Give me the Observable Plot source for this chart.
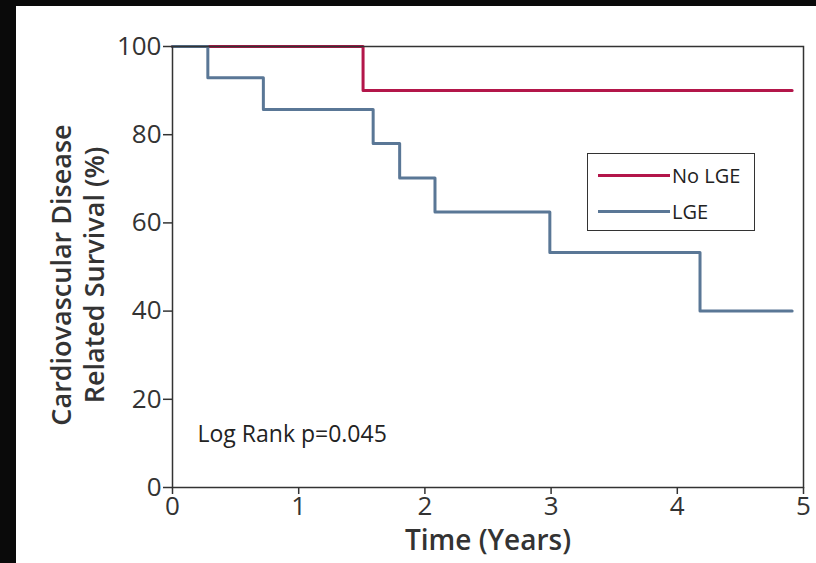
<!DOCTYPE html>
<html>
<head>
<meta charset="utf-8">
<script src="https://cdn.jsdelivr.net/npm/d3@7"></script>
<script src="https://cdn.jsdelivr.net/npm/@observablehq/plot@0.6"></script>
<style>
  html, body { margin: 0; padding: 0; background: #0a0a0a; width: 816px; height: 563px; overflow: hidden; }
  #wrap { position: absolute; left: 16px; top: 6px; width: 800px; height: 557px; background: #fff; }
  #legend { position: absolute; left: 571px; top: 147px; width: 166px; height: 76px; border: 1.5px solid #333; background: #fff; font-family: "Open Sans", sans-serif; font-size: 20px; color: #222; }
  .row { position: absolute; left: 10px; display: flex; align-items: center; }
  .swatch { width: 72px; height: 3px; margin-right: 2px; }
</style>
</head>
<body>
<div id="wrap"></div>
<script>
// Data (Kaplan-Meier steps)
const seriesNames = ["No LGE", "LGE"];
const seriesColors = ["#b3164a", "#5a7796"];
const timesNoLGE = [0, 1.51, 4.91];
const survivalNoLGE = [100, 90, 90];
const timesLGE = [0, 0.28, 0.72, 1.59, 1.80, 2.08, 2.99, 4.18, 4.91];
const survivalLGE = [100, 92.9, 85.7, 78.0, 70.2, 62.5, 53.3, 40, 40];
const xTicks = [0, 1, 2, 3, 4, 5];
const yTicks = [0, 20, 40, 60, 80, 100];
const yLabel = "Cardiovascular Disease\nRelated Survival (%)";
const xLabel = "Time (Years)";
const annotation = "Log Rank p=0.045";

const rows = [
  ...timesNoLGE.map((t, i) => ({group: seriesNames[0], t, s: survivalNoLGE[i]})),
  ...timesLGE.map((t, i) => ({group: seriesNames[1], t, s: survivalLGE[i]}))
];

const chart = Plot.plot({
  width: 800,
  height: 557,
  marginLeft: 156,
  marginTop: 40,
  marginRight: 13,
  marginBottom: 76,
  style: {background: "white", fontFamily: "'Open Sans', sans-serif", color: "#333"},
  x: {domain: [0, 5]},
  y: {domain: [0, 100]},
  color: {domain: seriesNames, range: seriesColors},
  marks: [
    Plot.line(rows, {x: "t", y: "s", z: "group", stroke: "group", strokeWidth: 3, curve: "step-after"}),
    Plot.frame({stroke: "#333", strokeWidth: 1.5}),
    Plot.axisY({ticks: yTicks, tickFormat: "d", tickSize: 9, tickPadding: 2, fontSize: 26, label: null, stroke: "#333", strokeWidth: 1.5}),
    Plot.axisX({ticks: xTicks, tickFormat: "d", tickSize: 7, tickPadding: 2, fontSize: 26, label: null, stroke: "#333", strokeWidth: 1.5}),
    Plot.text([yLabel], {text: d => d, frameAnchor: "left", rotate: -90, dx: -96, dy: 8, fontSize: 27, fontWeight: 600, lineHeight: 1.22, textAnchor: "middle", lineAnchor: "middle", fill: "#333"}),
    Plot.text([xLabel], {text: d => d, frameAnchor: "bottom", dy: 54, fontSize: 28, fontWeight: 600, lineAnchor: "middle", fill: "#333"}),
    Plot.text([annotation], {text: d => d, frameAnchor: "bottom-left", dx: 25, dy: -53, fontSize: 23, textAnchor: "start", lineAnchor: "middle", fill: "#222"})
  ]
});
const wrap = document.getElementById("wrap");
wrap.appendChild(chart);

// Legend
const legend = document.createElement("div");
legend.id = "legend";
seriesNames.forEach((name, i) => {
  const row = document.createElement("div");
  row.className = "row";
  row.style.top = (i === 0 ? 8 : 44) + "px";
  const sw = document.createElement("div");
  sw.className = "swatch";
  sw.style.background = seriesColors[i];
  const lab = document.createElement("span");
  lab.textContent = name;
  row.appendChild(sw);
  row.appendChild(lab);
  legend.appendChild(row);
});
wrap.appendChild(legend);
</script>
</body>
</html>
